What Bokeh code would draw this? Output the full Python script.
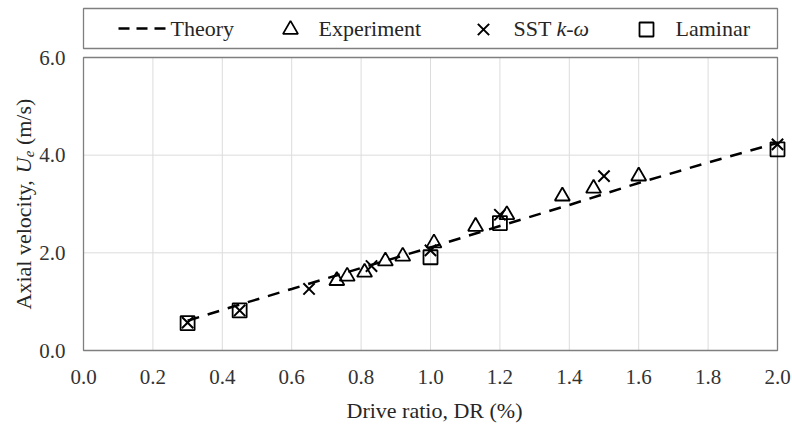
import math
from bokeh.plotting import figure
from bokeh.models import Range1d
from bokeh.core.properties import value
from bokeh.embed import file_html
from bokeh.resources import INLINE

# ---------------- data ----------------
theory_dr = [0.30, 0.45, 0.60, 0.80, 1.00, 1.20, 1.40, 1.60, 1.80, 2.00]
theory_u = [0.61, 0.94, 1.26, 1.69, 2.11, 2.55, 2.98, 3.43, 3.85, 4.25]

exp_dr = [0.73, 0.76, 0.81, 0.87, 0.92, 1.01, 1.13, 1.22, 1.38, 1.47, 1.60]
exp_u = [1.43, 1.52, 1.60, 1.83, 1.93, 2.20, 2.54, 2.78, 3.16, 3.32, 3.57]

sst_dr = [0.30, 0.45, 0.65, 0.83, 1.00, 1.20, 1.50, 2.00]
sst_u = [0.57, 0.82, 1.26, 1.73, 2.05, 2.78, 3.57, 4.22]

lam_dr = [0.30, 0.45, 1.00, 1.20, 2.00]
lam_u = [0.56, 0.82, 1.91, 2.61, 4.12]

x_ticks = [0.0, 0.2, 0.4, 0.6, 0.8, 1.0, 1.2, 1.4, 1.6, 1.8, 2.0]
x_tick_labels = ["0.0", "0.2", "0.4", "0.6", "0.8", "1.0", "1.2", "1.4", "1.6", "1.8", "2.0"]
y_ticks = [0.0, 2.0, 4.0, 6.0]
y_tick_labels = ["0.0", "2.0", "4.0", "6.0"]

X_MIN, X_MAX = 0.0, 2.0
Y_MIN, Y_MAX = 0.0, 6.0

# ---------------- layout (pixels) ----------------
W, H = 792, 425
FL, FR, FT, FB = 83, 777, 57, 350          # plot box in page pixels
SX = (FR - FL) / (X_MAX - X_MIN)
SY = (FB - FT) / (Y_MAX - Y_MIN)

def px(xp):  # page x -> data x
    return X_MIN + (xp - FL) / SX

def py(yp):  # page y -> data y
    return Y_MIN + (FB - yp) / SY

FONT = value("Liberation Serif")
TXT = "#262626"
TICK = "#333333"
BORDER = "#7f7f7f"
GRID = "#dcdcdc"

p = figure(width=W, height=H,
           x_range=Range1d(px(0), px(W)), y_range=Range1d(py(H), py(0)),
           min_border=0, x_axis_type=None, y_axis_type=None,
           output_backend="svg", toolbar_location=None)
p.grid.visible = False
p.outline_line_color = None

# grid lines
p.segment(x0=x_ticks, y0=[Y_MIN] * len(x_ticks), x1=x_ticks, y1=[Y_MAX] * len(x_ticks),
          line_color=GRID, line_width=1)
p.segment(x0=[X_MIN] * len(y_ticks), y0=y_ticks, x1=[X_MAX] * len(y_ticks), y1=y_ticks,
          line_color=GRID, line_width=1)
# plot border
p.quad(left=[X_MIN], right=[X_MAX], bottom=[Y_MIN], top=[Y_MAX],
       fill_color=None, line_color=BORDER, line_width=1.3)

# series
p.line(theory_dr, theory_u, line_color="black", line_width=2.5, line_dash="12 9")
p.scatter(exp_dr, exp_u, marker="triangle", size=15, fill_color=None, line_color="black", line_width=1.8)
p.scatter(lam_dr, lam_u, marker="square", size=14, fill_color=None, line_color="black", line_width=1.8)
p.scatter(sst_dr, sst_u, marker="x", size=16, line_color="black", line_width=2)

def txt(x, y, s, size="21px", style="normal", align="left", angle=0.0, color=TXT):
    p.text(x=x if isinstance(x, list) else [x], y=y if isinstance(y, list) else [y],
           text=s if isinstance(s, list) else [s], angle=angle,
           text_font=FONT, text_font_size=size, text_font_style=style, text_color=color,
           text_align=align, text_baseline="middle")

# tick labels
txt(x_ticks, [py(376)] * len(x_ticks), x_tick_labels, size="21px", align="center", color=TICK)
txt([px(65)] * len(y_ticks), y_ticks, y_tick_labels, size="21px", align="right", color=TICK)

# x-axis title
txt(px(434), py(410), "Drive ratio, DR (%)", size="22px", align="center")

# y-axis title (italic U with subscript e)
A = math.pi / 2
txt(px(23), py(309), "Axial velocity,", size="22px", angle=A)
txt(px(23), py(309 - 136.3), "U", size="22px", style="italic", angle=A)
txt(px(28.5), py(309 - 152.2), "e", size="15px", style="italic", angle=A)
txt(px(23), py(309 - 164.4), "(m/s)", size="22px", angle=A)

# legend
LY = py(28)
p.quad(left=[X_MIN], right=[X_MAX], bottom=[py(48)], top=[py(8)],
       fill_color=None, line_color=BORDER, line_width=1.3)
p.line([px(118), px(166)], [LY, LY], line_color="black", line_width=2.5, line_dash="11 7")
p.scatter([px(290)], [py(29)], marker="triangle", size=15, fill_color=None, line_color="black", line_width=1.8)
p.scatter([px(483)], [py(29)], marker="x", size=16, line_color="black", line_width=2)
p.scatter([px(646)], [py(29)], marker="square", size=14, fill_color=None, line_color="black", line_width=1.8)
txt(px(170), LY, "Theory", size="22px")
txt(px(318), LY, "Experiment", size="22px")
txt(px(513), LY, "SST", size="22px")
txt(px(556), LY, "k-ω", size="22px", style="italic")
txt(px(675), LY, "Laminar", size="22px")

open("out.html", "w").write(file_html(p, INLINE))
